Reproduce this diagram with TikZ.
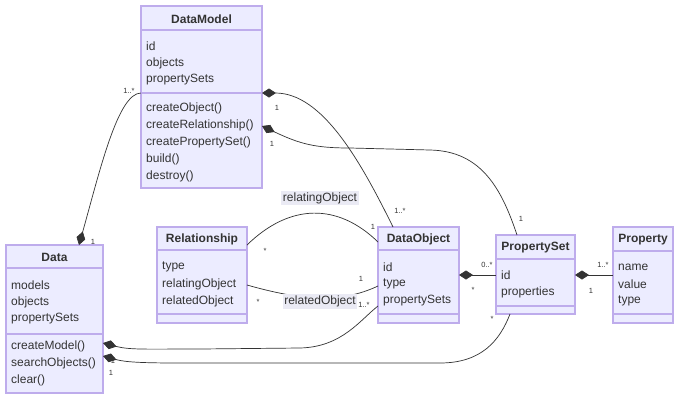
\documentclass[tikz,border=0pt]{standalone}
\usepackage{fontspec}
\setmainfont{Liberation Sans}
\usetikzlibrary{arrows.meta}
\definecolor{clsfill}{HTML}{ECECFF}
\definecolor{clsline}{RGB}{190,172,236}
\definecolor{ink}{HTML}{333333}
\definecolor{lblbg}{RGB}{234,234,244}
\tikzset{
  cls/.style={draw=clsline, fill=clsfill, line width=1.2pt, inner sep=0pt, rectangle},
  sepline/.style={draw=clsline, line width=1.2pt},
  hdr/.style={font=\fontsize{12}{14}\selectfont\bfseries, text=ink, inner sep=0pt},
  mem/.style={font=\fontsize{12}{14}\selectfont, text=ink, anchor=west, inner sep=0pt},
  conn/.style={draw=ink, line width=0.7pt},
  comp/.style={conn, {Diamond[length=14pt,width=9pt,fill=ink]}-},
  card/.style={font=\fontsize{7.5}{8}\selectfont, text=ink, inner sep=0pt},
  elbl/.style={font=\fontsize{12}{14}\selectfont, text=ink, fill=lblbg, inner sep=1.5pt},
}
\begin{document}
\begin{tikzpicture}[x=1pt,y=-1pt]
\useasboundingbox (0,0) rectangle (680,400);
\fill[white] (0,0) rectangle (680,400);

% ---------- DataModel ----------
\node[cls, minimum width=121pt, minimum height=182pt] (DM) at (201.5,97) {};
\draw[sepline] (141,30) -- (262,30);
\draw[sepline] (141,93) -- (262,93);
\node[hdr] (DMh) at (201.5,19) {DataModel};
\node[mem] (DMa1) at (146,46) {id};
\node[mem] (DMa2) at (146,63) {objects};
\node[mem] (DMa3) at (146,80) {propertySets};
\node[mem] (DMm1) at (146,108) {createObject()};
\node[mem] (DMm2) at (146,125) {createRelationship()};
\node[mem] (DMm3) at (146,142) {createPropertySet()};
\node[mem] (DMm4) at (146,159) {build()};
\node[mem] (DMm5) at (146,176) {destroy()};

% ---------- Data ----------
\node[cls, minimum width=97pt, minimum height=148pt] (DA) at (54.5,319) {};
\draw[sepline] (6,268) -- (103,268);
\draw[sepline] (6,334) -- (103,334);
\node[hdr] (DAh) at (54.5,257) {Data};
\node[mem] (DAa1) at (11,285) {models};
\node[mem] (DAa2) at (11,302) {objects};
\node[mem] (DAa3) at (11,319) {propertySets};
\node[mem] (DAm1) at (11,346) {createModel()};
\node[mem] (DAm2) at (11,363) {searchObjects()};
\node[mem] (DAm3) at (11,380) {clear()};

% ---------- Relationship ----------
\node[cls, minimum width=90pt, minimum height=96pt] (RL) at (202,275) {};
\draw[sepline] (157,250) -- (247,250);
\draw[sepline] (157,314) -- (247,314);
\node[hdr] (RLh) at (202,239.5) {Relationship};
\node[mem] (RLa1) at (162,267) {type};
\node[mem] (RLa2) at (162,284) {relatingObject};
\node[mem] (RLa3) at (162,301) {relatedObject};

% ---------- DataObject ----------
\node[cls, minimum width=81pt, minimum height=96pt] (DO) at (418.5,275) {};
\draw[sepline] (378,250) -- (459,250);
\draw[sepline] (378,314) -- (459,314);
\node[hdr] (DOh) at (418.5,239.5) {DataObject};
\node[mem] (DOa1) at (383,267) {id};
\node[mem] (DOa2) at (383,284) {type};
\node[mem] (DOa3) at (383,301) {propertySets};

% ---------- PropertySet ----------
\node[cls, minimum width=79pt, minimum height=79pt] (PS) at (535.5,274.5) {};
\draw[sepline] (496,259) -- (575,259);
\draw[sepline] (496,306) -- (575,306);
\node[hdr] (PSh) at (535.5,248) {PropertySet};
\node[mem] (PSa1) at (501,275) {id};
\node[mem] (PSa2) at (501,292) {properties};

% ---------- Property ----------
\node[cls, minimum width=60pt, minimum height=96pt] (PR) at (643,275) {};
\draw[sepline] (613,251) -- (673,251);
\draw[sepline] (613,314) -- (673,314);
\node[hdr] (PRh) at (643,240) {Property};
\node[mem] (PRa1) at (618,267) {name};
\node[mem] (PRa2) at (618,284) {value};
\node[mem] (PRa3) at (618,301) {type};

% ---------- attachment points ----------
\coordinate (DAtop) at (79,245);
\coordinate (DMleft) at (141,93);
\coordinate (DMr1) at (262,93);
\coordinate (DOtop) at (393,227);
\coordinate (DMr2) at (262,126);
\coordinate (PStop) at (517,235);
\coordinate (RLr1) at (247,245);
\coordinate (DOl1) at (378,242);
\coordinate (RLr2) at (247,285);
\coordinate (DOl2) at (378,286);
\coordinate (DOr) at (459,275);
\coordinate (PSl) at (496,275);
\coordinate (PSr) at (575,275);
\coordinate (PRl) at (613,275);
\coordinate (DAr1) at (103,343);
\coordinate (DOl3) at (378,306);
\coordinate (DAr2) at (103,356);
\coordinate (PSbot) at (510,314);

% ---------- connectors ----------
\draw[comp] (DAtop) .. controls (100,170) and (118,93) .. (DMleft);
\draw[comp] (DMr1) .. controls (322,93) and (360,160) .. (DOtop);
\draw[comp] (DMr2) .. controls (300,144) and (315,148) .. (350,148) -- (430,150) .. controls (482,151) and (502,190) .. (PStop);
\draw[conn] (RLr1) .. controls (290,203) and (338,203) .. (DOl1);
\draw[conn] (RLr2) .. controls (300,300) and (340,304) .. (DOl2);
\draw[comp] (DOr) -- (PSl);
\draw[comp] (PSr) -- (PRl);
\draw[comp] (DAr1) .. controls (130,350) and (145,349) .. (200,349) -- (300,348) .. controls (342,347) and (360,320) .. (DOl3);
\draw[comp] (DAr2) .. controls (125,362) and (140,363) .. (180,363) -- (440,363) .. controls (482,363) and (500,340) .. (PSbot);

% ---------- edge labels ----------
\node[elbl] (lbl1) at (320,198) {relatingObject};
\node[elbl] (lbl2) at (320,301.5) {relatedObject};

% ---------- cardinalities ----------
\node[card] at (129,91) {1..*};
\node[card] at (93,241.5) {1};
\node[card] at (277,108) {1};
\node[card] at (400,211) {1..*};
\node[card] at (272,144) {1};
\node[card] at (521,219) {1};
\node[card] at (265,251) {*};
\node[card] at (373,227) {1};
\node[card] at (258,302) {*};
\node[card] at (361,279) {1};
\node[card] at (487,265) {0..*};
\node[card] at (473,290) {*};
\node[card] at (603,265) {1..*};
\node[card] at (591,291) {1};
\node[card] at (113,361) {1};
\node[card] at (364,305) {1..*};
\node[card] at (111,373) {1};
\node[card] at (492,319) {*};
\end{tikzpicture}
\end{document}
